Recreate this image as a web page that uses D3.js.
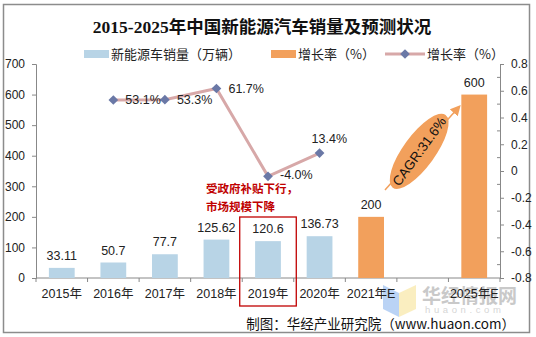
<!DOCTYPE html>
<html>
<head>
<meta charset="utf-8">
<script src="https://cdn.jsdelivr.net/npm/d3@7"></script>
<style>
  body { margin: 0; background: #fff; }
  svg text { font-family: "Liberation Sans", "Noto Sans CJK SC", sans-serif; }
</style>
</head>
<body>
<div id="chart"></div>
<script>
// categories on the x axis (one empty slot between 2021E and 2025E)
var categories = ["2015年", "2016年", "2017年", "2018年", "2019年", "2020年", "2021年E", "gap", "2025年E"];

// actual sales (万辆)
var actualYears = ["2015年", "2016年", "2017年", "2018年", "2019年", "2020年"];
var actualSales = [33.11, 50.7, 77.7, 125.62, 120.6, 136.73];

// forecast sales
var forecastYears = ["2021年E", "2025年E"];
var forecastSales = [200, 600];

// growth rate
var growthYears = ["2016年", "2017年", "2018年", "2019年", "2020年"];
var growthRates = [0.531, 0.533, 0.617, -0.04, 0.134];

var leftTicks = [0, 100, 200, 300, 400, 500, 600, 700];
var rightTicks = [-0.8, -0.6, -0.4, -0.2, 0, 0.2, 0.4, 0.6, 0.8];

var W = 536, H = 337;
var plot = { left: 36, right: 500, top: 64, bottom: 278 };

var blue = "#b8d4e6", orange = "#f2a05c", lineCol = "#d7a8a8", markCol = "#6a78a6", red = "#c00000";

var loc = d3.formatLocale({ decimal: ".", thousands: ",", grouping: [3], currency: ["", ""], minus: "-" });
var pct = loc.format(".1%");

var svg = d3.select("#chart").append("svg")
  .attr("width", W)
  .attr("height", H);

// frame
svg.append("rect")
  .attr("x", 3.5).attr("y", 4.5)
  .attr("width", 526).attr("height", 328)
  .attr("fill", "none")
  .attr("stroke", "#8c8c8c")
  .attr("stroke-width", 1.5);

var x = d3.scaleBand()
  .domain(categories)
  .range([plot.left, plot.right])
  .paddingInner(0.5)
  .paddingOuter(0.25);

var y = d3.scaleLinear().domain([0, 700]).range([plot.bottom, plot.top]);
var y2 = d3.scaleLinear().domain([-0.8, 0.8]).range([plot.bottom, plot.top]);

// watermark (behind everything)
var wm = svg.append("g");
wm.append("polygon")
  .attr("points", "383,285 399,293 399,317 383,309")
  .attr("fill", "#a9c8f2").attr("opacity", 0.8);
wm.append("polygon")
  .attr("points", "399,293 416,285 416,309 399,317")
  .attr("fill", "#f9eab0").attr("opacity", 0.8);
wm.append("text")
  .attr("x", 422).attr("y", 303)
  .attr("font-size", 19).attr("font-weight", "bold")
  .attr("fill", "#c9c9c9")
  .style("font-family", "Noto Sans CJK SC")
  .text("华经情报网");
wm.append("text")
  .attr("x", 425).attr("y", 313)
  .attr("font-size", 9.5)
  .attr("letter-spacing", 3.6)
  .attr("fill", "#d6d6d6")
  .text("huaon.com");

// title
svg.append("text")
  .attr("x", 262).attr("y", 33)
  .attr("text-anchor", "middle")
  .attr("font-size", 17.5)
  .attr("font-weight", "bold")
  .attr("fill", "#111")
  .style("font-family", "'Liberation Serif', 'Noto Sans CJK SC', serif")
  .text("2015-2025年中国新能源汽车销量及预测状况");

// legend
var lg = svg.append("g").attr("font-size", 13).attr("fill", "#222");
lg.append("rect").attr("x", 84).attr("y", 50).attr("width", 25).attr("height", 8).attr("fill", blue);
lg.append("text").attr("x", 111).attr("y", 58.5).text("新能源车销量（万辆）").style("font-family", "Noto Sans CJK SC");
lg.append("rect").attr("x", 271).attr("y", 50).attr("width", 25).attr("height", 8).attr("fill", orange);
lg.append("text").attr("x", 298).attr("y", 58.5).text("增长率（%）").style("font-family", "Noto Sans CJK SC");
lg.append("line").attr("x1", 385).attr("x2", 425).attr("y1", 54).attr("y2", 54)
  .attr("stroke", lineCol).attr("stroke-width", 3);
lg.append("path").attr("d", d3.symbol(d3.symbolDiamond2, 60)()).attr("transform", "translate(405,54)").attr("fill", markCol);
lg.append("text").attr("x", 427).attr("y", 58.5).text("增长率（%）").style("font-family", "Noto Sans CJK SC");

// left axis
var axL = svg.append("g")
  .attr("transform", "translate(" + plot.left + ",0)")
  .call(d3.axisLeft(y).tickValues(leftTicks).tickSize(4).tickPadding(7));
axL.select(".domain").attr("stroke", "#888");
axL.selectAll(".tick line").attr("stroke", "#888");
axL.selectAll("text").attr("font-size", 12).attr("fill", "#222").style("font-family", "Liberation Sans");

// right axis
var axR = svg.append("g")
  .attr("transform", "translate(" + plot.right + ",0)")
  .call(d3.axisRight(y2).tickValues(rightTicks).tickSize(4).tickPadding(7)
    .tickFormat(function(d) { return loc.format("")(+d.toFixed(1)); }));
axR.select(".domain").attr("stroke", "#888");
axR.selectAll(".tick line").attr("stroke", "#888");
axR.selectAll("text").attr("font-size", 12).attr("fill", "#222").style("font-family", "Liberation Sans");
// minor ticks inside
axR.selectAll(".minor")
  .data(d3.range(-0.7, 0.8, 0.2))
  .enter().append("line")
  .attr("x1", -3).attr("x2", 0)
  .attr("y1", function(d) { return y2(d); })
  .attr("y2", function(d) { return y2(d); })
  .attr("stroke", "#888");

// x axis
var axX = svg.append("g").attr("transform", "translate(0," + plot.bottom + ")");
axX.append("line").attr("x1", plot.left).attr("x2", plot.right).attr("stroke", "#888");
axX.selectAll(".bt")
  .data(d3.range(categories.length + 1))
  .enter().append("line")
  .attr("x1", function(i) { return plot.left + i * x.step(); })
  .attr("x2", function(i) { return plot.left + i * x.step(); })
  .attr("y1", 0).attr("y2", 4)
  .attr("stroke", "#888");
axX.selectAll(".lab")
  .data(categories)
  .enter().append("text")
  .attr("x", function(d) { return x(d) + x.bandwidth() / 2; })
  .attr("y", 20)
  .attr("text-anchor", "middle")
  .attr("font-size", 12.5)
  .attr("fill", "#222")
  .text(function(d) { return d == "gap" ? "" : d; });

// bars
function drawBars(years, vals, col) {
  var g = svg.append("g");
  g.selectAll("rect")
    .data(vals)
    .enter().append("rect")
    .attr("x", function(d, i) { return x(years[i]); })
    .attr("width", x.bandwidth())
    .attr("y", function(d) { return y(d); })
    .attr("height", function(d) { return y(0) - y(d); })
    .attr("fill", col);
  g.selectAll("text")
    .data(vals)
    .enter().append("text")
    .attr("x", function(d, i) { return x(years[i]) + x.bandwidth() / 2; })
    .attr("y", function(d) { return y(d) - 8; })
    .attr("text-anchor", "middle")
    .attr("font-size", 12.5)
    .attr("fill", "#222")
    .text(function(d) { return String(d); });
}
drawBars(actualYears, actualSales, blue);
drawBars(forecastYears, forecastSales, orange);

// 2019 red box + note
var bx = x("2019年") - x.step() * 0.25;
svg.append("rect")
  .attr("x", bx - 2.5).attr("y", 217)
  .attr("width", x.step() + 5).attr("height", 89)
  .attr("fill", "none")
  .attr("stroke", red)
  .attr("stroke-width", 1.3);
svg.append("text")
  .attr("x", 206).attr("y", 193)
  .attr("font-size", 11.5).attr("font-weight", "bold")
  .attr("fill", red)
  .style("font-family", "Noto Sans CJK SC")
  .text("受政府补贴下行，");
svg.append("text")
  .attr("x", 206).attr("y", 211)
  .attr("font-size", 11.5).attr("font-weight", "bold")
  .attr("fill", red)
  .style("font-family", "Noto Sans CJK SC")
  .text("市场规模下降");

// growth line
var cx = function(d, i) { return x(growthYears[i]) + x.bandwidth() / 2; };
var line = d3.line()
  .x(cx)
  .y(function(d) { return y2(d); });
svg.append("path")
  .datum(growthRates)
  .attr("d", line)
  .attr("fill", "none")
  .attr("stroke", lineCol)
  .attr("stroke-width", 3);
svg.append("g").selectAll("path")
  .data(growthRates)
  .enter().append("path")
  .attr("d", d3.symbol(d3.symbolDiamond2, 60)())
  .attr("transform", function(d, i) { return "translate(" + cx(d, i) + "," + y2(d) + ")"; })
  .attr("fill", markCol);
svg.append("g").selectAll("text")
  .data(growthRates)
  .enter().append("text")
  .attr("x", function(d, i) { return i == 4 ? cx(d, i) - 8 : cx(d, i) + 12; })
  .attr("y", function(d, i) { return i == 4 ? y2(d) - 10 : y2(d) + (d < 0 ? 3 : 4.5); })
  .attr("font-size", 12.5)
  .attr("fill", "#222")
  .text(function(d) { return pct(d); });

// CAGR arrow + ellipse
var ax0 = x("2021年E") + x.bandwidth() + 1, ax1 = x("2025年E") - 2;
svg.append("defs").append("marker")
  .attr("id", "arr")
  .attr("viewBox", "0 0 10 10")
  .attr("refX", 8).attr("refY", 5)
  .attr("markerWidth", 7).attr("markerHeight", 7)
  .attr("orient", "auto")
  .append("path").attr("d", "M0,0L10,5L0,10z").attr("fill", orange);
svg.append("line")
  .attr("x1", ax0).attr("y1", y(0) - 88)
  .attr("x2", ax1).attr("y2", y(600) + 12)
  .attr("stroke", orange).attr("stroke-width", 1.5)
  .attr("marker-end", "url(#arr)");
var ec = [(ax0 + ax1) / 2 - 3, (y(0) - 88 + y(600) + 12) / 2 + 3];
var eg = svg.append("g").attr("transform", "translate(" + ec[0] + "," + ec[1] + ") rotate(-54)");
eg.append("ellipse").attr("rx", 45).attr("ry", 16).attr("fill", orange);
eg.append("text")
  .attr("text-anchor", "middle")
  .attr("dy", "0.36em")
  .attr("font-size", 13.5)
  .attr("fill", "#111")
  .text("CAGR:31.6%");

// source
svg.append("text")
  .attr("x", 515).attr("y", 329)
  .attr("text-anchor", "end")
  .attr("font-size", 13.5)
  .attr("fill", "#111")
  .style("font-family", "Noto Sans CJK SC")
  .text("制图：华经产业研究院（www.huaon.com）");
</script>
</body>
</html>
